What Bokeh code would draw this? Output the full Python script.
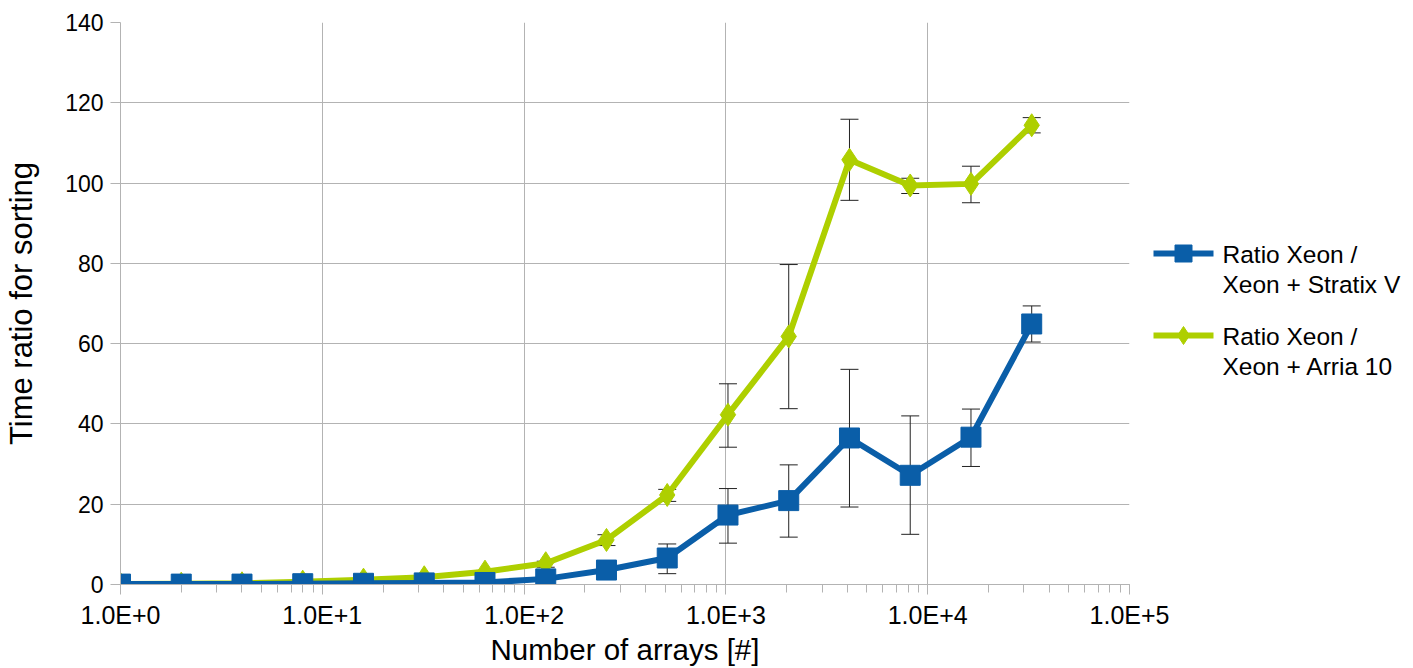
from bokeh.plotting import figure
from bokeh.layouts import row
from bokeh.models import (ColumnDataSource, Whisker, FixedTicker,
                          LogTicker, CustomJSTickFormatter, Range1d)
from bokeh.core.properties import value
from bokeh.embed import file_html
from bokeh.resources import INLINE

# ---- data ----
n_arrays = [1, 2, 4, 8, 16, 32, 64, 128, 256, 512, 1024, 2048, 4096, 8192, 16384, 32768]

stratix = [0.1, 0.1, 0.1, 0.2, 0.3, 0.4, 0.5, 1.4, 3.6, 6.6, 17.3, 20.9, 36.5, 27.2, 36.7, 64.9]
stratix_hi = [0.1, 0.1, 0.1, 0.2, 0.3, 0.5, 0.9, 2.0, 4.9, 10.1, 23.9, 29.8, 53.6, 42.0, 43.7, 69.4]
stratix_lo = [0.1, 0.1, 0.1, 0.2, 0.3, 0.3, 0.2, 0.8, 1.7, 2.7, 10.3, 11.8, 19.3, 12.5, 29.4, 60.4]

arria = [0.1, 0.2, 0.3, 0.7, 1.2, 1.8, 3.2, 5.3, 11.1, 22.3, 42.3, 61.8, 105.8, 99.4, 99.8, 114.4]
arria_hi = [0.1, 0.2, 0.3, 0.7, 1.2, 1.8, 3.5, 5.8, 12.4, 23.7, 50.0, 79.7, 115.9, 101.2, 104.2, 116.3]
arria_lo = [0.1, 0.2, 0.3, 0.7, 1.2, 1.8, 2.9, 4.3, 9.7, 20.7, 34.2, 43.8, 95.7, 97.4, 95.1, 112.5]

y_ticks = [0, 20, 40, 60, 80, 100, 120, 140]
label_stratix = ["Ratio Xeon /", "Xeon + Stratix V"]
label_arria = ["Ratio Xeon /", "Xeon + Arria 10"]

BLUE = "#0a5ea8"
GREEN = "#aecf00"
GRID = "#b3b3b3"
FONT = "Liberation Sans"

H = 668
TOP, BOTTOM = 22, 84
FRAME_L, FRAME_R = 120, 1129
EXTRA_R = 46                      # room for the last x tick label
W_MAIN = FRAME_R + EXTRA_R
W_LEG = 1413 - FRAME_R            # legend panel overlaps the extra room

p = figure(width=W_MAIN, height=H, x_axis_type="log", output_backend="svg",
           toolbar_location=None, x_range=Range1d(1, 1e5), y_range=Range1d(0, 140),
           min_border_left=FRAME_L, min_border_top=TOP, min_border_bottom=BOTTOM,
           min_border_right=EXTRA_R)
p.outline_line_color = None
p.background_fill_color = "white"
p.border_fill_color = "white"

src_s = ColumnDataSource(dict(x=n_arrays, y=stratix, hi=stratix_hi, lo=stratix_lo))
src_a = ColumnDataSource(dict(x=n_arrays, y=arria, hi=arria_hi, lo=arria_lo))

p.line("x", "y", source=src_a, line_color=GREEN, line_width=6)
p.scatter("x", "y", source=src_a, marker="diamond", size=23, fill_color=GREEN, line_color=GREEN)
p.line("x", "y", source=src_s, line_color=BLUE, line_width=6)
p.scatter("x", "y", source=src_s, marker="square", size=20, fill_color=BLUE, line_color=BLUE)

for src in (src_a, src_s):
    w = Whisker(source=src, base="x", upper="hi", lower="lo", dimension="height",
                line_color="#222222", line_width=1)
    w.upper_head.size = 18
    w.lower_head.size = 18
    w.upper_head.line_color = "#222222"
    w.lower_head.line_color = "#222222"
    p.add_layout(w)

# axes
p.yaxis.ticker = FixedTicker(ticks=y_ticks)
p.xaxis.ticker = LogTicker(num_minor_ticks=10)
p.xaxis.formatter = CustomJSTickFormatter(code="""
    const e = Math.round(Math.log10(tick));
    return "1.0E+" + e;
""")
for ax in (p.xaxis[0], p.yaxis[0]):
    ax.axis_line_color = GRID
    ax.major_tick_line_color = GRID
    ax.minor_tick_line_color = GRID
    ax.major_tick_in = 0
    ax.major_tick_out = 10
    ax.minor_tick_in = 0
    ax.minor_tick_out = 8
    ax.major_label_text_font = FONT
    ax.major_label_text_color = "black"
    ax.axis_label_text_font = FONT
    ax.axis_label_text_font_style = "normal"
    ax.axis_label_text_color = "black"
p.yaxis.major_label_text_font_size = "23px"
p.xaxis.major_label_text_font_size = "25px"
p.xaxis.axis_label_text_font_size = "29.5px"
p.yaxis.axis_label_text_font_size = "31px"
p.yaxis.minor_tick_line_color = None
p.yaxis.major_label_standoff = 7
p.xaxis.major_label_standoff = 6
p.xaxis.axis_label = "Number of arrays [#]"
p.yaxis.axis_label = "Time ratio for sorting"
p.xaxis.axis_label_standoff = 1
p.yaxis.axis_label_standoff = 23

p.xgrid.grid_line_color = GRID
p.ygrid.grid_line_color = GRID
p.xgrid.minor_grid_line_color = None

# ---- legend panel (transparent, overlapping the main plot's right border; y grows downwards) ----
lf = figure(width=W_LEG, height=H, output_backend="svg", toolbar_location=None,
            x_range=Range1d(FRAME_R, 1413), y_range=Range1d(H - BOTTOM, TOP),
            x_axis_location=None, y_axis_location=None,
            min_border_left=0, min_border_right=0, min_border_top=TOP,
            min_border_bottom=BOTTOM, margin=(0, 0, 0, -EXTRA_R))
lf.outline_line_color = None
lf.xgrid.visible = False
lf.ygrid.visible = False
lf.background_fill_color = None
lf.border_fill_color = None

entries = [(label_stratix, BLUE, "square", 17, 253),
           (label_arria, GREEN, "diamond", 18, 335)]
for labels, color, marker, msize, yc in entries:
    lf.segment(x0=[1153], y0=[yc], x1=[1213], y1=[yc], line_color=color, line_width=6)
    lf.scatter(x=[1183], y=[yc], marker=marker, size=msize, fill_color=color, line_color=color)
    lf.text(x=[1222, 1222], y=[yc + 1, yc + 31], text=labels,
            text_font=value(FONT), text_font_size="24.5px", text_color="black",
            text_align="left", text_baseline="alphabetic")

open("out.html", "w").write(file_html(row(p, lf), INLINE))
